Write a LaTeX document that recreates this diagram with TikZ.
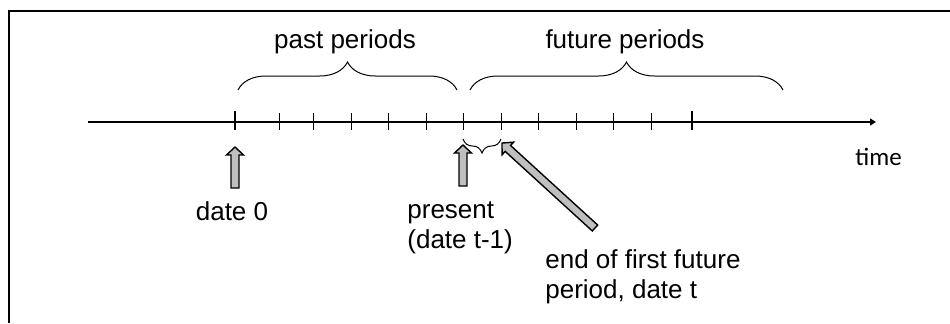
\documentclass[tikz,border=0pt]{standalone}
\usepackage{fontspec}
\setmainfont{Liberation Sans}
\newfontfamily\timefont{Carlito}
\usetikzlibrary{arrows.meta,decorations.pathreplacing}

\definecolor{arrowgray}{HTML}{BFBFBF}

\tikzset{
  lbl/.style={inner sep=0pt, font=\fontsize{13}{15}\selectfont},
  axisline/.style={line width=1pt, -{Triangle[length=3pt,width=3.5pt]}},
  thintick/.style={line width=0.5pt},
  thicktick/.style={line width=1.1pt},
  bigbrace/.style={decorate, decoration={brace, amplitude=14pt}, line width=0.5pt},
  smallbrace/.style={decorate, decoration={brace, amplitude=7pt}, line width=0.5pt},
  % hollow block arrow: tail at the origin, tip at (#1,0)
  blockarrow/.pic={
    \draw[line width=0.7pt, fill=arrowgray, line join=miter]
      (0pt,-2pt) -- (#1-4pt,-2pt) -- (#1-4pt,-4.25pt) -- (#1,0pt)
      -- (#1-4pt,4.25pt) -- (#1-4pt,2pt) -- (0pt,2pt) -- cycle;
  }
}

\begin{document}
\begin{tikzpicture}[x=0.5pt, y=-0.5pt]
  \useasboundingbox (0,0) rectangle (950,323);

  % frame (top and left edges)
  \draw[line width=1pt] (9,323) -- (9,11) -- (950,11);

  % time axis
  \coordinate (axstart) at (88,122);
  \coordinate (axend) at (876,122);
  \draw[axisline] (axstart) -- (axend);

  % period marks
  \foreach \n/\x in {t1/279,t2/313,t3/351,t4/388,t5/426,t6/463,t7/501,t8/538,t9/576,t10/613,t11/651}{
    \coordinate (\n) at (\x,122);
    \draw[thintick] (\x,113) -- (\x,130);
  }
  \coordinate (d0) at (235,122);
  \coordinate (dend) at (692,122);
  \draw[thicktick] (235,111) -- (235,130);
  \draw[thicktick] (692,111) -- (692,130);

  % braces over past and future periods
  \coordinate (pastL) at (238,90);
  \coordinate (pastR) at (457,90);
  \coordinate (futL) at (470,90);
  \coordinate (futR) at (783,90);
  \draw[bigbrace] (pastL) -- (pastR);
  \draw[bigbrace] (futL) -- (futR);
  \node[lbl, anchor=base] (past) at (345,48) {past periods};
  \node[lbl, anchor=base] (future) at (625,48) {future periods};

  % brace under the first future period
  \coordinate (firstL) at (463,139);
  \coordinate (firstR) at (501,139);
  \draw[smallbrace] (firstR) -- (firstL);

  % pointers to the marked dates
  \coordinate (tail0) at (235,188);
  \coordinate (tailp) at (463,186);
  \coordinate (tailt) at (595,228);
  \pic[rotate=90] at (tail0) {blockarrow=20.5pt};
  \pic[rotate=90] at (tailp) {blockarrow=20.5pt};
  \pic[rotate=137.6] at (tailt) {blockarrow=63pt};

  % labels (a two-line node sits on the baseline of its last line)
  \node[lbl, anchor=base] (date0) at (232,220) {date 0};
  \node[lbl, anchor=base west, align=left] (present) at (407,248) {present\\(date t-1)};
  \node[lbl, anchor=base west, align=left] (endfirst) at (545,298) {end of first future\\period, date t};
  \node[lbl, anchor=base west, font=\timefont\fontsize{12.5}{15}\selectfont] (time) at (855,165) {time};
\end{tikzpicture}
\end{document}
